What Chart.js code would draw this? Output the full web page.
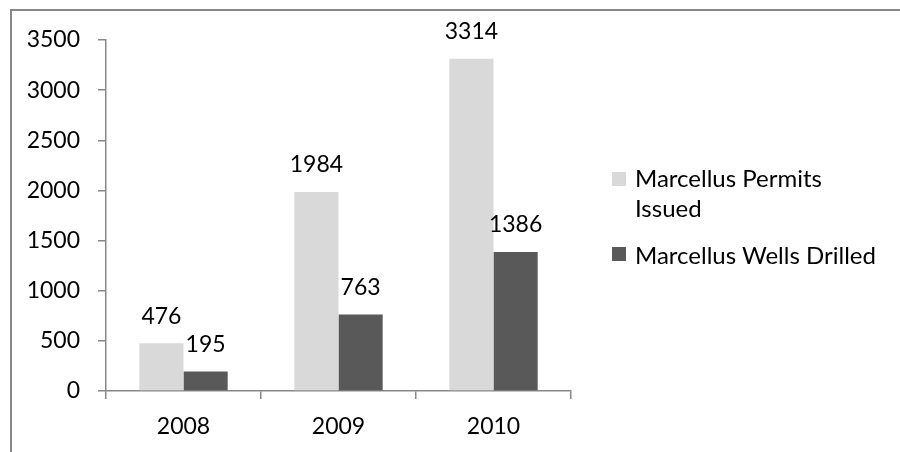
<!DOCTYPE html>
<html>
<head>
<meta charset="utf-8">
<script src="https://cdn.jsdelivr.net/npm/chart.js@4.4.0/dist/chart.umd.min.js"></script>
<style>
  html, body { margin: 0; padding: 0; background: #fff; overflow: hidden; }
  #wrap { position: relative; width: 900px; height: 452px; }
  #frame { position: absolute; left: 10px; top: 9px; width: 1000px; height: 1000px; border: 2px solid #878787; box-sizing: border-box; }
  canvas { position: absolute; left: 0; top: 0; }
  .leg { position: absolute; left: 612px; font-family: Lato, sans-serif; font-size: 24px; line-height: 30px; color: #000; }
  .leg .box { position: absolute; left: 0; width: 14px; height: 14px; }
  .leg .txt { position: absolute; left: 23px; white-space: nowrap; }
</style>
</head>
<body>
<div id="wrap">
  <div id="frame"></div>
  <canvas id="myChart" width="900" height="452"></canvas>
  <div class="leg" style="top:163px">
    <div class="box" style="top:9px;background:#d9d9d9"></div>
    <div class="txt">Marcellus Permits<br>Issued</div>
  </div>
  <div class="leg" style="top:240px">
    <div class="box" style="top:7px;background:#595959"></div>
    <div class="txt">Marcellus Wells Drilled</div>
  </div>
</div>
<script>
const years = ['2008', '2009', '2010'];
const permits = [476, 1984, 3314];
const wells = [195, 763, 1386];
const yTicks = [0, 500, 1000, 1500, 2000, 2500, 3000, 3500];

const axisColor = '#888888';

// value labels above each bar
const barLabels = {
  id: 'barLabels',
  afterDatasetsDraw(chart) {
    const ctx = chart.ctx;
    ctx.save();
    ctx.font = '23px Lato';
    ctx.fillStyle = '#000';
    ctx.textAlign = 'center';
    ctx.textBaseline = 'middle';
    chart.data.datasets.forEach((ds, i) => {
      chart.getDatasetMeta(i).data.forEach((bar, j) => {
        ctx.fillText(ds.data[j], bar.x, bar.y - 27);
      });
    });
    ctx.restore();
  }
};

const ctx = document.getElementById('myChart').getContext('2d');
let myChart = new Chart(ctx, {
  type: 'bar',
  data: {
    labels: years,
    datasets: [{
      label: 'Marcellus Permits Issued',
      data: permits,
      backgroundColor: '#d9d9d9',
      categoryPercentage: 0.57,
      barPercentage: 1
    }, {
      label: 'Marcellus Wells Drilled',
      data: wells,
      backgroundColor: '#595959',
      categoryPercentage: 0.57,
      barPercentage: 1
    }]
  },
  options: {
    responsive: false,
    animation: false,
    devicePixelRatio: 1,
    layout: { padding: { left: 0, top: 40, right: 329, bottom: 0 } },
    plugins: {
      legend: { display: false },
      tooltip: { enabled: false }
    },
    scales: {
      x: {
        offset: true,
        grid: { offset: true, drawOnChartArea: false, drawTicks: true, tickLength: 8, color: axisColor, lineWidth: 1.5 },
        border: { color: axisColor, width: 1.5 },
        ticks: { color: '#000', font: { family: 'Lato', size: 23 }, padding: 14 },
        afterFit(scale) { scale.height = 61; }
      },
      y: {
        min: 0,
        max: 3500,
        afterBuildTicks(scale) { scale.ticks = yTicks.map(v => ({ value: v })); },
        grid: { drawOnChartArea: false, drawTicks: true, tickLength: 8, color: axisColor, lineWidth: 1.5 },
        border: { color: axisColor, width: 1.5 },
        ticks: { color: '#000', font: { family: 'Lato', size: 23 }, padding: 18, callback: v => String(v) },
        afterFit(scale) { scale.width = 106; }
      }
    }
  },
  plugins: [barLabels]
});
</script>
</body>
</html>
